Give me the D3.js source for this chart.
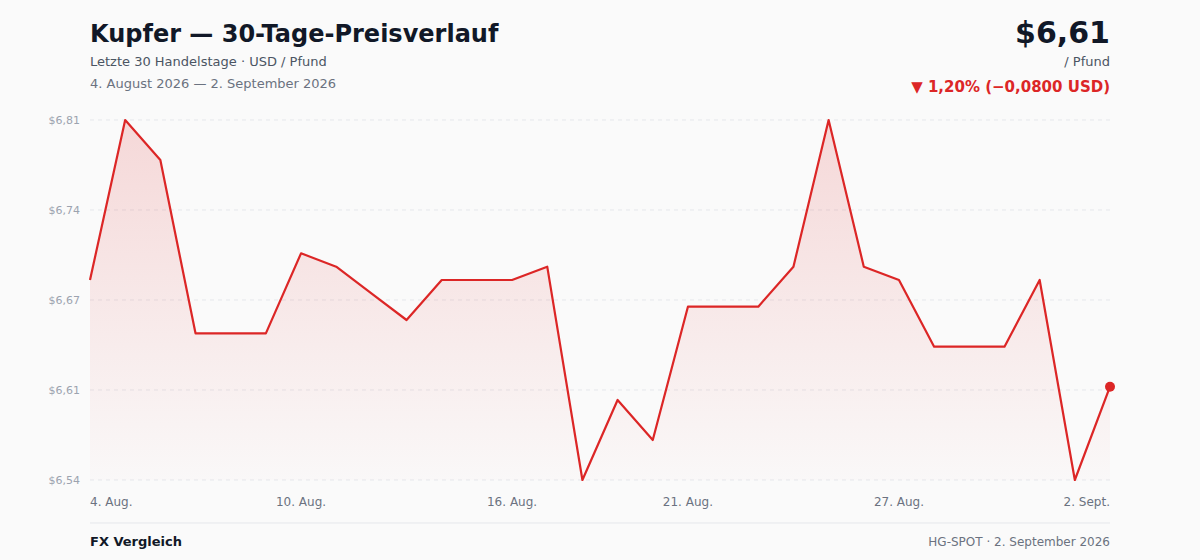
<!DOCTYPE html>
<html>
<head>
<meta charset="utf-8">
<script src="https://cdn.jsdelivr.net/npm/d3@7"></script>
<style>
  body { margin: 0; background: #fafafa; font-family: "DejaVu Sans", sans-serif; }
</style>
</head>
<body>
<svg id="chart" width="1200" height="560"></svg>
<script>
// Price data: one value per trading day
var values = [6.69, 6.81, 6.78, 6.65, 6.65, 6.65, 6.71, 6.70, 6.68, 6.66,
              6.69, 6.69, 6.69, 6.70, 6.54, 6.60, 6.57, 6.67, 6.67, 6.67,
              6.70, 6.81, 6.70, 6.69, 6.64, 6.64, 6.64, 6.69, 6.54, 6.61];
var tickIdx = [0, 6, 12, 17, 23, 29];
var tickLabels = ["4. Aug.", "10. Aug.", "16. Aug.", "21. Aug.", "27. Aug.", "2. Sept."];
var yTicks = [6.54, 6.6075, 6.675, 6.7425, 6.81];

var svg = d3.select("#chart");
var plotLeft = 90, plotRight = 1110, plotTop = 120, plotBottom = 480;

var x = d3.scaleLinear().domain([0, values.length - 1]).range([plotLeft, plotRight]);
var y = d3.scaleLinear().domain([6.54, 6.81]).range([plotBottom, plotTop]);

// Gradient for the area
var grad = svg.append("defs").append("linearGradient")
  .attr("id", "fill").attr("x1", 0).attr("y1", 0).attr("x2", 0).attr("y2", 1);
grad.append("stop").attr("offset", "0%").attr("stop-color", "#dc2626").attr("stop-opacity", 0.16);
grad.append("stop").attr("offset", "100%").attr("stop-color", "#dc2626").attr("stop-opacity", 0.01);

// Grid + y labels
yTicks.forEach(function (t) {
  svg.append("line")
    .attr("x1", plotLeft).attr("x2", plotRight).attr("y1", y(t)).attr("y2", y(t))
    .attr("stroke", "#e5e7eb").attr("stroke-dasharray", "4,4");
  svg.append("text")
    .attr("x", 80).attr("y", y(t) + 4).attr("text-anchor", "end")
    .attr("font-size", 11).attr("fill", "#9ca3af")
    .text("$" + t.toFixed(2).replace(".", ","));
});

// Area + line
svg.append("path").datum(values)
  .attr("fill", "url(#fill)")
  .attr("d", d3.area().x(function (d, i) { return x(i); }).y0(plotBottom).y1(function (d) { return y(d); }));
svg.append("path").datum(values)
  .attr("fill", "none").attr("stroke", "#dc2626").attr("stroke-width", 2.2)
  .attr("stroke-linejoin", "round")
  .attr("d", d3.line().x(function (d, i) { return x(i); }).y(function (d) { return y(d); }));
svg.append("circle")
  .attr("cx", x(values.length - 1)).attr("cy", y(values[values.length - 1]))
  .attr("r", 5).attr("fill", "#dc2626");

// X labels
tickIdx.forEach(function (idx, k) {
  var anchor = k === 0 ? "start" : (k === tickIdx.length - 1 ? "end" : "middle");
  svg.append("text")
    .attr("x", x(idx)).attr("y", 506).attr("text-anchor", anchor)
    .attr("font-size", 12).attr("fill", "#6b7280").text(tickLabels[k]);
});

// Header
svg.append("text").attr("x", 90).attr("y", 42).attr("font-size", 24).attr("font-weight", "bold")
  .attr("fill", "#111827").text("Kupfer — 30-Tage-Preisverlauf");
svg.append("text").attr("x", 90).attr("y", 66).attr("font-size", 13).attr("fill", "#4b5563")
  .text("Letzte 30 Handelstage · USD / Pfund");
svg.append("text").attr("x", 90).attr("y", 88).attr("font-size", 13).attr("fill", "#6b7280")
  .text("4. August 2026 — 2. September 2026");
svg.append("text").attr("x", 1110).attr("y", 43).attr("text-anchor", "end").attr("font-size", 30)
  .attr("font-weight", "bold").attr("fill", "#111827").text("$6,61");
svg.append("text").attr("x", 1110).attr("y", 66).attr("text-anchor", "end").attr("font-size", 13)
  .attr("fill", "#4b5563").text("/ Pfund");
svg.append("text").attr("x", 1110).attr("y", 92).attr("text-anchor", "end").attr("font-size", 15)
  .attr("font-weight", "bold").attr("fill", "#dc2626").text("▼ 1,20% (−0,0800 USD)");

// Footer
svg.append("line").attr("x1", 90).attr("x2", 1110).attr("y1", 523).attr("y2", 523)
  .attr("stroke", "#e5e7eb");
svg.append("text").attr("x", 90).attr("y", 546).attr("font-size", 13).attr("font-weight", "bold")
  .attr("fill", "#111827").text("FX Vergleich");
svg.append("text").attr("x", 1110).attr("y", 546).attr("text-anchor", "end").attr("font-size", 12)
  .attr("fill", "#6b7280").text("HG-SPOT · 2. September 2026");
</script>
</body>
</html>
